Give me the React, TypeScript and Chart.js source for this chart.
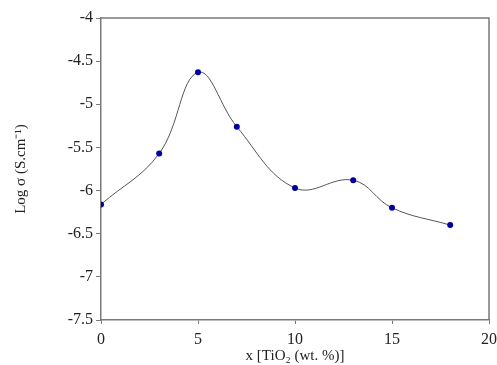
import React, { useEffect, useRef } from "react";
import { Chart, registerables } from "chart.js";

Chart.register(...registerables);

const xValues = [0, 3, 5, 7, 10, 13, 15, 18];
const logSigma = [-6.16, -5.57, -4.63, -5.26, -5.97, -5.88, -6.2, -6.4];
const xTicks = [0, 5, 10, 15, 20];
const yTicks = [-4, -4.5, -5, -5.5, -6, -6.5, -7, -7.5];

const FONT = "'Liberation Serif', 'Times New Roman', serif";
const AXIS = "#7a7a7a";

const framePlugin = {
  id: "frame",
  afterDraw(chart: any) {
    const { ctx, chartArea } = chart;
    ctx.save();
    ctx.strokeStyle = AXIS;
    ctx.lineWidth = 1.5;
    ctx.beginPath();
    ctx.moveTo(chartArea.left, chartArea.top);
    ctx.lineTo(chartArea.right, chartArea.top);
    ctx.lineTo(chartArea.right, chartArea.bottom);
    ctx.stroke();
    ctx.restore();
  },
};

export default function App() {
  const ref = useRef<HTMLCanvasElement>(null);
  useEffect(() => {
    document.body.style.margin = "0";
    const chart = new Chart(ref.current!, {
      type: "scatter",
      data: {
        datasets: [
          {
            data: xValues.map((x, i) => ({ x, y: logSigma[i] })),
            showLine: true,
            tension: 0.4,
            borderColor: "#555555",
            borderWidth: 1,
            pointRadius: 3,
            pointBackgroundColor: "#0000a0",
            pointBorderColor: "#0000a0",
            pointBorderWidth: 0,
          },
        ],
      },
      options: {
        animation: false,
        responsive: false,
        layout: { padding: { top: 18, right: 0, left: 0, bottom: 0 } },
        plugins: { legend: { display: false }, tooltip: { enabled: false } },
        scales: {
          x: {
            type: "linear",
            min: 0,
            max: 20,
            afterBuildTicks: (s: any) => {
              s.ticks = xTicks.map((v) => ({ value: v }));
            },
            afterFit: (s: any) => {
              s.height = 45;
              s.paddingRight = 8;
            },
            border: { color: AXIS, width: 1.5 },
            grid: { display: true, drawOnChartArea: false, drawTicks: true, tickLength: 4, color: AXIS },
            ticks: {
              color: "#222",
              font: { family: FONT, size: 16 },
              padding: 6,
              callback: (v: any) => String(v),
            },
            title: {
              display: true,
              text: "x [TiO\u2082 (wt. %)]",
              color: "#222",
              font: { family: FONT, size: 15 },
              padding: { top: 0, bottom: 0 },
            },
          },
          y: {
            type: "linear",
            min: -7.5,
            max: -4,
            afterBuildTicks: (s: any) => {
              s.ticks = yTicks.map((v) => ({ value: v }));
            },
            afterFit: (s: any) => {
              s.width = 101;
            },
            border: { color: AXIS, width: 1.5 },
            grid: { display: true, drawOnChartArea: false, drawTicks: true, tickLength: 5, color: AXIS },
            ticks: {
              color: "#222",
              font: { family: FONT, size: 16 },
              padding: 3,
              callback: (v: any) => String(v),
            },
            title: {
              display: true,
              text: "Log \u03c3 (S.cm\u207b\u00b9)",
              color: "#222",
              font: { family: FONT, size: 15 },
              padding: { top: 12, bottom: 0 },
            },
          },
        },
      },
      plugins: [framePlugin],
    } as any);
    return () => chart.destroy();
  }, []);
  return (
    <div style={{ position: "absolute", left: 0, top: 0, width: 497, height: 365 }}>
      <canvas ref={ref} width={497} height={365} />
    </div>
  );
}
